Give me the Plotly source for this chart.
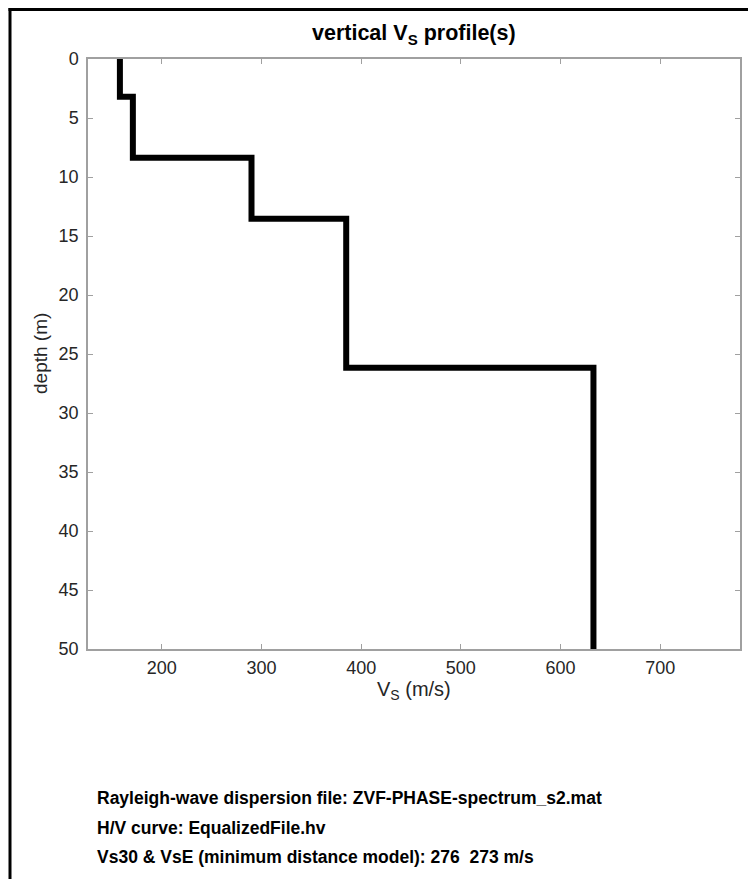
import plotly.graph_objects as go

# Layered Vs model
layer_vs = [158, 171, 290, 385, 633]            # m/s
layer_top_depth = [0, 3.2, 8.37, 13.54, 26.17]  # m
max_depth = 50

x_ticks = [200, 300, 400, 500, 600, 700]
y_ticks = [0, 5, 10, 15, 20, 25, 30, 35, 40, 45, 50]

info_lines = [
    "Rayleigh-wave dispersion file: ZVF-PHASE-spectrum_s2.mat",
    "H/V curve: EqualizedFile.hv",
    "Vs30 & VsE (minimum distance model): 276  273 m/s",
]

OFF = 8  # page body margin
W, H = 756 - OFF, 879 - OFF
PL, PR, PT, PB = 88, 740, 59, 649   # plot box in screenshot pixels
L, T = PL - OFF, PT - OFF
R = W - (PR - OFF)
B = H - (PB - OFF)
pw = PR - PL
ph = PB - PT

def px_x(px):
    return (px - PL) / pw

def px_y(py):
    return (PB - py) / ph

FONT = "Liberation Sans, Arial, Helvetica, sans-serif"
TXT = "#262626"
AX = "#a0a0a0"

fig = go.Figure()
fig.add_trace(go.Scatter(
    x=layer_vs + [layer_vs[-1]],
    y=layer_top_depth + [max_depth],
    mode="lines",
    line=dict(color="black", width=6, shape="vh"),
    showlegend=False,
    hoverinfo="skip",
))

axis_common = dict(
    showgrid=False, zeroline=False,
    showline=True, linecolor=AX, linewidth=1.5,
    mirror="ticks", ticks="inside", ticklen=5, tickwidth=1, tickcolor=AX,
    tickfont=dict(family=FONT, size=18, color=TXT),
)

fig.update_xaxes(range=[126, 780], tickvals=x_ticks, ticklabelstandoff=2, **axis_common)
fig.update_yaxes(range=[max_depth, 0], tickvals=y_ticks, ticklabelstandoff=4, **axis_common)

annotations = [
    dict(text="<b>vertical V<sub>S</sub> profile(s)</b>", x=0.5, y=px_y(35),
         xref="paper", yref="paper", showarrow=False, xanchor="center", yanchor="middle",
         font=dict(family=FONT, size=21.5, color="black")),
    dict(text="V<sub>S</sub> (m/s)", x=0.5, y=px_y(690),
         xref="paper", yref="paper", showarrow=False, xanchor="center", yanchor="middle",
         font=dict(family=FONT, size=20, color=TXT)),
    dict(text="depth (m)", x=px_x(40), y=0.5, textangle=-90,
         xref="paper", yref="paper", showarrow=False, xanchor="center", yanchor="middle",
         font=dict(family=FONT, size=19, color=TXT)),
]
for txt, yy in zip(info_lines, [798, 828, 857]):
    annotations.append(dict(text="<b>" + txt + "</b>", x=px_x(95), y=px_y(yy),
                            xref="paper", yref="paper", showarrow=False,
                            xanchor="left", yanchor="middle",
                            font=dict(family=FONT, size=17.5, color="black")))

TOP_Y = 9.5
shapes = [
    dict(type="line", xref="paper", yref="paper", x0=px_x(10), x1=px_x(10),
         y0=px_y(TOP_Y - 1.5), y1=px_y(900), line=dict(color="black", width=3)),
    dict(type="line", xref="paper", yref="paper", x0=px_x(8.5), x1=px_x(800),
         y0=px_y(TOP_Y), y1=px_y(TOP_Y), line=dict(color="black", width=3)),
]

fig.update_layout(
    width=W, height=H,
    margin=dict(l=L, r=R, t=T, b=B, autoexpand=False),
    paper_bgcolor="white", plot_bgcolor="white",
    annotations=annotations, shapes=shapes,
    font=dict(family=FONT),
)

fig.write_html("out.html")
